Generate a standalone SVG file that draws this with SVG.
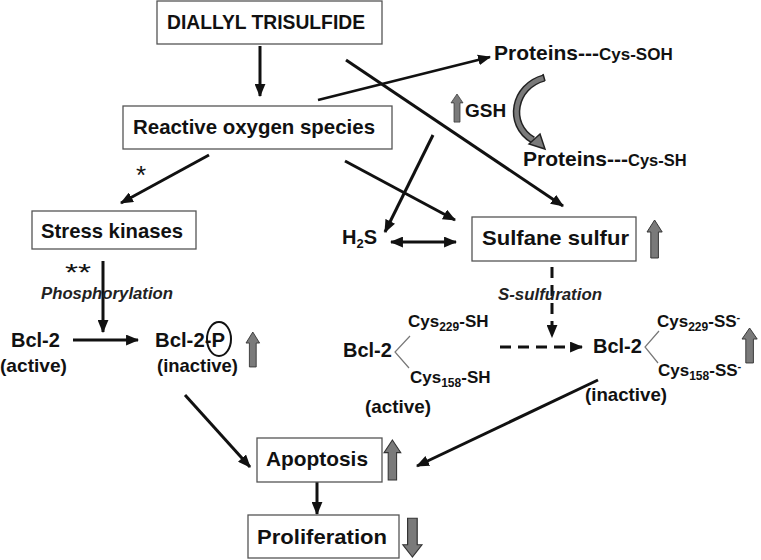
<svg xmlns="http://www.w3.org/2000/svg" width="761" height="560" viewBox="0 0 761 560">
<style>
text{font-family:"Liberation Sans",Arial,sans-serif;font-weight:bold;fill:#111}
.box{fill:#fff;stroke:#555;stroke-width:1.3}
.lbl{font-size:21px}
.t20{font-size:20px}
.t19{font-size:19px}
.star{font-size:26px;font-weight:normal}
.it{font-style:italic;font-size:16px;fill:#222}
.ln{stroke:#111;stroke-width:3;fill:none;marker-end:url(#ah)}
.dash{stroke-dasharray:11 7}
.br{stroke:#777;stroke-width:1.2;fill:none}
.blk{fill:#7a7a7a;stroke:#333;stroke-width:1}
</style>
<defs>
<marker id="ah" viewBox="0 0 12 10" refX="11" refY="5" markerWidth="13" markerHeight="11" markerUnits="userSpaceOnUse" orient="auto-start-reverse">
<path d="M0,0 L12,5 L0,10 z" fill="#111"/>
</marker>
<path id="up" d="M8 0 L16 12 L12 12 L12 38 L4 38 L4 12 L0 12 Z"/>
</defs>

<g id="connectors">
<line class="ln" x1="260" y1="46" x2="260" y2="96"/>
<line class="ln" x1="318" y1="100" x2="490" y2="57" style="stroke-width:2.5"/>
<line class="ln" x1="346" y1="60" x2="563" y2="206"/>
<line class="ln" x1="209" y1="155" x2="121" y2="203"/>
<line class="ln" x1="345" y1="161" x2="455" y2="220"/>
<line class="ln" x1="433" y1="135" x2="385" y2="232"/>
<line class="ln" x1="391" y1="242" x2="456" y2="242" style="marker-start:url(#ah)"/>
<line class="ln" x1="103" y1="261" x2="103" y2="332"/>
<line class="ln" x1="73" y1="340" x2="138" y2="340"/>
<line class="ln dash" x1="552" y1="267" x2="552" y2="337"/>
<line class="ln dash" x1="500" y1="347" x2="582" y2="347"/>
<line class="ln" x1="185" y1="395" x2="250" y2="467"/>
<line class="ln" x1="598" y1="380" x2="417" y2="466"/>
<line class="ln" x1="317" y1="482" x2="317" y2="514"/>
<!-- curved GSH arrow -->
<path d="M544 78 C514 86 506 124 533 140" fill="none" stroke="#222" stroke-width="7.5"/>
<path d="M544 78 C514 86 506 124 533 140" fill="none" stroke="#7a7a7a" stroke-width="4.5"/>
<path d="M543 74 L545 81" stroke="#222" stroke-width="1.5"/>
<polygon points="529,144 540,134 545,149" fill="#7a7a7a" stroke="#222" stroke-width="1.5"/>
</g>

<g id="dats">
<rect class="box" x="157" y="1" width="225" height="43"/>
<text class="lbl" x="167" y="29" textLength="198" lengthAdjust="spacingAndGlyphs">DIALLYL TRISULFIDE</text>
</g>
<g id="ros">
<rect class="box" x="123" y="106" width="269" height="43"/>
<text class="lbl" x="133" y="134" textLength="242" lengthAdjust="spacingAndGlyphs">Reactive oxygen species</text>
</g>
<g id="stress">
<rect class="box" x="32" y="211" width="164" height="38"/>
<text class="lbl" x="41" y="238" textLength="142" lengthAdjust="spacingAndGlyphs">Stress kinases</text>
</g>
<g id="sulfane">
<rect class="box" x="472" y="217" width="164" height="44"/>
<text class="lbl" x="482" y="245" textLength="147" lengthAdjust="spacingAndGlyphs">Sulfane sulfur</text>
<use href="#up" class="blk" transform="translate(647,220) scale(0.95,1)"/>
</g>
<g id="apoptosis">
<rect class="box" x="257" y="438" width="125" height="44"/>
<text class="lbl" x="266" y="466" textLength="102" lengthAdjust="spacingAndGlyphs">Apoptosis</text>
<use href="#up" class="blk" transform="translate(384,440) scale(1.05,1.05)"/>
</g>
<g id="proliferation">
<rect class="box" x="248" y="515" width="151" height="43"/>
<text class="lbl" x="257" y="544" textLength="130" lengthAdjust="spacingAndGlyphs">Proliferation</text>
<use href="#up" class="blk" transform="translate(422,557) rotate(180) scale(1.2,1.02)"/>
</g>

<g id="proteins-soh">
<text x="494" y="60"><tspan class="lbl">Proteins---</tspan><tspan style="font-size:17px">Cys-SOH</tspan></text>
</g>
<g id="gsh">
<use href="#up" class="blk" transform="translate(451,94) scale(0.75,0.74)"/>
<text class="t19" x="465" y="117">GSH</text>
</g>
<g id="proteins-sh">
<text x="523" y="166"><tspan class="lbl">Proteins---</tspan><tspan style="font-size:16.5px">Cys-SH</tspan></text>
</g>

<g id="star1"><text class="star" x="136" y="184">*</text></g>
<g id="h2s">
<text class="t20" x="342" y="244">H<tspan style="font-size:13px" dy="4">2</tspan><tspan dy="-4">S</tspan></text>
</g>
<g id="phos">
<text class="star" x="65" y="281" style="font-size:23px" textLength="26" lengthAdjust="spacingAndGlyphs">**</text>
<text class="it" x="41" y="299" textLength="132" lengthAdjust="spacingAndGlyphs">Phosphorylation</text>
</g>
<g id="bcl2-left">
<text class="t20" x="11" y="347">Bcl-2</text>
<text class="t19" x="0" y="372" textLength="67" lengthAdjust="spacingAndGlyphs">(active)</text>
</g>
<g id="bcl2p">
<text class="t20" x="155" y="347" textLength="70" lengthAdjust="spacingAndGlyphs">Bcl-2-P</text>
<ellipse cx="219" cy="339" rx="12" ry="17" fill="none" stroke="#111" stroke-width="2"/>
<text class="t19" x="157" y="372" textLength="81" lengthAdjust="spacingAndGlyphs">(inactive)</text>
<use href="#up" class="blk" transform="translate(246,332) scale(0.85,0.92)"/>
</g>
<g id="ssulf">
<text class="it" x="498" y="300" textLength="104" lengthAdjust="spacingAndGlyphs">S-sulfuration</text>
</g>
<g id="bcl2-mid">
<text class="t20" x="343" y="357">Bcl-2</text>
<polyline class="br" points="410,336 395,352 409,368"/>
<text x="408" y="327" style="font-size:17px">Cys<tspan style="font-size:12px" dy="4">229</tspan><tspan dy="-4">-SH</tspan></text>
<text x="410" y="383" style="font-size:17px">Cys<tspan style="font-size:12px" dy="4">158</tspan><tspan dy="-4">-SH</tspan></text>
<text class="t19" x="365" y="413" textLength="66" lengthAdjust="spacingAndGlyphs">(active)</text>
</g>
<g id="bcl2-right">
<text class="t20" x="593" y="353">Bcl-2</text>
<polyline class="br" points="659,331 645,347 658,363"/>
<text x="657" y="327" style="font-size:17px">Cys<tspan style="font-size:12px" dy="4">229</tspan><tspan dy="-4">-SS</tspan><tspan style="font-size:11px" dy="-6">-</tspan></text>
<text x="658" y="376" style="font-size:17px">Cys<tspan style="font-size:12px" dy="4">158</tspan><tspan dy="-4">-SS</tspan><tspan style="font-size:11px" dy="-6">-</tspan></text>
<text class="t19" x="585" y="401" textLength="82" lengthAdjust="spacingAndGlyphs">(inactive)</text>
<use href="#up" class="blk" transform="translate(742,328) scale(0.95,0.92)"/>
</g>
</svg>
